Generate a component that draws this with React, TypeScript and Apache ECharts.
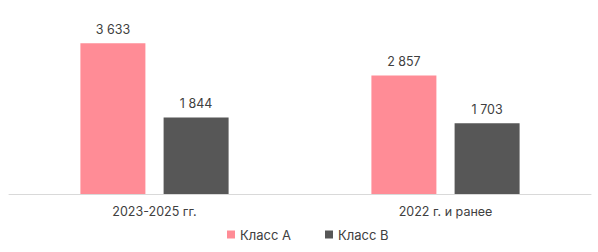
import React, { useEffect, useRef } from "react";
import * as echarts from "echarts";

const categories = ["2023-2025 гг.", "2022 г. и ранее"];
const seriesNames = ["Класс А", "Класс В"];
const classA = [3633, 2857];
const classB = [1844, 1703];

const fmt = (v: number) => {
  const s = String(Math.round(v));
  return s.replace(/\B(?=(\d{3})+(?!\d))/g, " ");
};

export default function App() {
  const ref = useRef<HTMLDivElement>(null);
  useEffect(() => {
    if (!ref.current) return;
    const chart = echarts.init(ref.current, undefined, { renderer: "svg" });
    const font = "Inter, 'Noto Sans', sans-serif";
    const label = {
      show: true,
      position: "top" as const,
      distance: 7,
      color: "#404040",
      fontSize: 12.5,
      fontFamily: font,
      formatter: (p: any) => fmt(p.value),
    };
    chart.setOption({
      animation: false,
      grid: { left: 9, right: 7, top: 28, bottom: 58, containLabel: false },
      legend: {
        bottom: 6,
        left: 222,
        itemWidth: 8,
        itemHeight: 8,
        itemGap: 34,
        icon: "rect",
        textStyle: { color: "#404040", fontSize: 13, fontFamily: font },
        data: seriesNames,
      },
      xAxis: {
        type: "category",
        data: categories,
        axisLine: { lineStyle: { color: "#d9d9d9", width: 1 } },
        axisTick: { show: false },
        axisLabel: { color: "#404040", fontSize: 12.5, fontFamily: font, margin: 11 },
      },
      yAxis: {
        type: "value",
        min: 0,
        max: 4000,
        show: false,
        splitLine: { show: false },
      },
      series: [
        {
          name: seriesNames[0],
          type: "bar",
          data: classA,
          itemStyle: { color: "#FF8C96" },
          barWidth: 65,
          barGap: "28%",
          label,
        },
        {
          name: seriesNames[1],
          type: "bar",
          data: classB,
          itemStyle: { color: "#575757" },
          barWidth: 65,
          label,
        },
      ],
    });
    return () => chart.dispose();
  }, []);
  return (
    <div
      ref={ref}
      style={{ position: "fixed", left: 0, top: 0, width: 598, height: 252, background: "#fff" }}
    />
  );
}
